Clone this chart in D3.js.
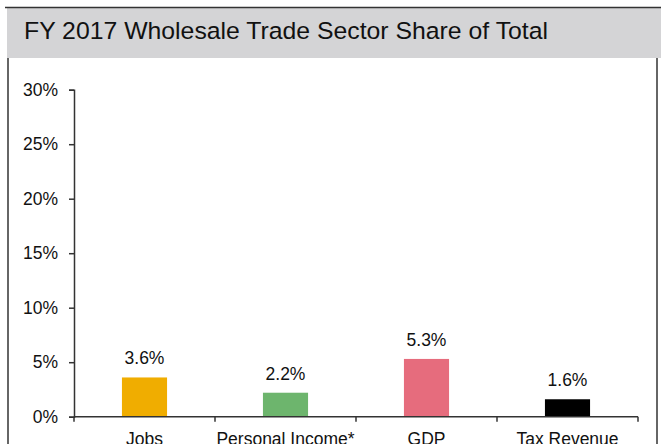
<!DOCTYPE html>
<html><head><meta charset="utf-8">
<script src="https://cdn.jsdelivr.net/npm/d3@7"></script>
<style>html,body{margin:0;padding:0;background:#fff;overflow:hidden}</style>
</head><body>
<svg id="c" width="661" height="444"></svg>
<script>
const categories = ["Jobs", "Personal Income*", "GDP", "Tax Revenue"];
const values = [3.6, 2.2, 5.3, 1.6];
const colors = ["#F0AD00", "#6DB56D", "#E66C7D", "#000000"];
const yTicks = [0, 5, 10, 15, 20, 25, 30];
const title = "FY 2017 Wholesale Trade Sector Share of Total";

const svg = d3.select("#c");
const font = "Arial, 'Liberation Sans', sans-serif";

// header
svg.append("rect").attr("x", 7).attr("y", 8).attr("width", 654).attr("height", 50).attr("fill", "#D4D4D6");
svg.append("line").attr("x1", 5).attr("x2", 661).attr("y1", 7.5).attr("y2", 7.5).attr("stroke", "#333").attr("stroke-width", 1.5);
svg.append("line").attr("x1", 8).attr("x2", 8).attr("y1", 58).attr("y2", 444).attr("stroke", "#333").attr("stroke-width", 1.5);
svg.append("line").attr("x1", 657).attr("x2", 657).attr("y1", 58).attr("y2", 444).attr("stroke", "#333").attr("stroke-width", 1.5);
svg.append("text").attr("x", 24).attr("y", 38.5).attr("font-family", font).attr("font-size", 24.5)
  .attr("textLength", 524).attr("lengthAdjust", "spacingAndGlyphs").attr("fill", "#111").text(title);

const x = d3.scaleBand().domain(categories).range([74, 638]).paddingInner(0.68).paddingOuter(0.34);
const y = d3.scaleLinear().domain([0, 30]).range([416.7, 89.7]);

// y axis
const ya = svg.append("g").attr("transform", "translate(74,0)")
  .call(d3.axisLeft(y).tickValues(yTicks).tickSize(5).tickPadding(11).tickFormat(d => d + "%"));
ya.select(".domain").attr("stroke", "#333").attr("stroke-width", 1.5);
ya.selectAll(".tick line").attr("stroke", "#333").attr("stroke-width", 1.5);
ya.selectAll(".tick text").attr("font-family", font).attr("font-size", 17.5).attr("fill", "#111");

// bars
svg.selectAll("rect.bar").data(values).enter().append("rect").attr("class", "bar")
  .attr("x", (d, i) => x(categories[i])).attr("width", x.bandwidth())
  .attr("y", d => y(d)).attr("height", d => y(0) - y(d))
  .attr("fill", (d, i) => colors[i]);

svg.selectAll("text.val").data(values).enter().append("text").attr("class", "val")
  .attr("x", (d, i) => x(categories[i]) + x.bandwidth() / 2)
  .attr("y", d => y(d) - 13)
  .attr("text-anchor", "middle").attr("font-family", font).attr("font-size", 17.5).attr("fill", "#111")
  .text(d => d.toFixed(1) + "%");

// x axis
const bounds = d3.range(categories.length + 1).map(i => 74 + i * (564 / categories.length));
svg.append("line").attr("x1", 74).attr("x2", 638).attr("y1", y(0)).attr("y2", y(0)).attr("stroke", "#333").attr("stroke-width", 1.5);
svg.selectAll("line.xt").data(bounds).enter().append("line").attr("class", "xt")
  .attr("x1", d => d).attr("x2", d => d).attr("y1", y(0)).attr("y2", y(0) + 5)
  .attr("stroke", "#333").attr("stroke-width", 1.5);
svg.selectAll("text.cat").data(categories).enter().append("text").attr("class", "cat")
  .attr("x", d => x(d) + x.bandwidth() / 2).attr("y", 445)
  .attr("text-anchor", "middle").attr("font-family", font).attr("font-size", 17.5).attr("fill", "#111")
  .text(d => d);
</script>
</body></html>
